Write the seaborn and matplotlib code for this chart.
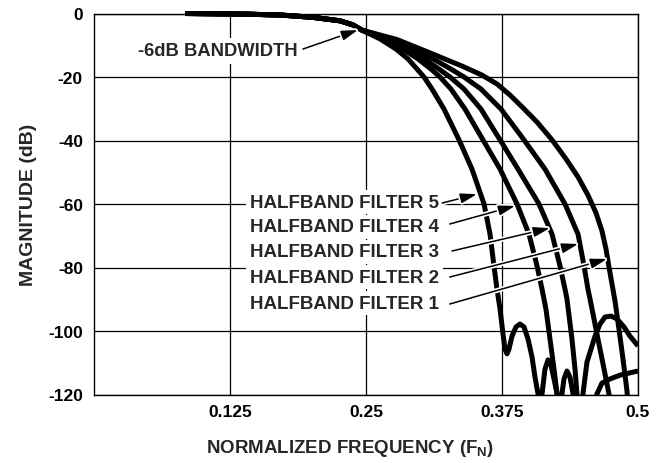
import numpy as np
import pandas as pd
import matplotlib
matplotlib.use("Agg")
import matplotlib.pyplot as plt
import seaborn as sns
from matplotlib import patheffects as pe
from matplotlib.transforms import Bbox, TransformedBbox

# ---------------- data ----------------
passband_f = [0.084, 0.14, 0.172, 0.201, 0.226, 0.238, 0.246]
passband_db = [0.0, -0.2, -0.5, -1.2, -2.3, -3.6, -5.2]

f1 = [0.2785, 0.3088, 0.3392, 0.3566, 0.3704, 0.3824, 0.3934, 0.4072, 0.4210, 0.4338,
      0.4449, 0.4540, 0.4614, 0.4669, 0.4706, 0.4733, 0.4761, 0.4789, 0.4825, 0.4862,
      0.4899, 0.4917]
db1 = [-8.2, -12.4, -16.7, -19.4, -22.2, -25.7, -29.4, -34.2, -39.8, -45.8,
       -51.5, -57.2, -62.8, -68.5, -74.2, -79.8, -85.2, -90.6, -99.4, -108.8,
       -118.9, -127.7]

f2 = [0.2702, 0.2923, 0.3116, 0.3281, 0.3401, 0.3557, 0.3741, 0.3952, 0.4145, 0.4329,
      0.4449, 0.4504, 0.4540, 0.4559, 0.4632, 0.4688, 0.4733, 0.4770]
db2 = [-8.0, -11.2, -14.3, -17.5, -20.0, -23.8, -30.1, -39.8, -49.0, -60.0,
       -69.5, -79.5, -86.8, -89.9, -102.5, -112.0, -119.8, -127.7]

f3 = [0.2675, 0.2886, 0.3033, 0.3171, 0.3272, 0.3401, 0.3557, 0.3732, 0.3897, 0.4090,
      0.4210, 0.4283, 0.4329, 0.4347, 0.4393, 0.4421, 0.4439, 0.4449, 0.4467, 0.4494,
      0.4531, 0.4605, 0.4651, 0.4697, 0.4752, 0.4807, 0.4871, 0.4926, 0.5000]
db3 = [-8.0, -11.2, -14.3, -17.5, -20.0, -23.8, -30.1, -39.8, -49.0, -60.0,
       -69.5, -79.5, -86.8, -89.9, -102.5, -112.0, -119.8, -124.6, -127.7, -119.8,
       -109.8, -101.6, -97.8, -95.6, -95.3, -96.2, -98.7, -101.6, -104.7]

f4 = [0.2656, 0.2840, 0.2978, 0.3097, 0.3180, 0.3281, 0.3410, 0.3575, 0.3732, 0.3888,
      0.3998, 0.4072, 0.4118, 0.4154, 0.4191, 0.4228, 0.4256, 0.4274, 0.4301, 0.4320,
      0.4347, 0.4375, 0.4403, 0.4421, 0.4522, 0.4623, 0.4669, 0.4743, 0.4835, 0.5000]
db4 = [-8.0, -11.2, -14.3, -17.5, -20.0, -23.8, -30.1, -39.8, -49.0, -60.0,
       -69.5, -79.5, -86.8, -93.1, -102.5, -112.0, -119.8, -127.7, -119.8, -115.1,
       -112.6, -114.5, -119.8, -127.7, -134.0, -119.8, -116.4, -115.1, -113.9, -112.6]

f5 = [0.2629, 0.2776, 0.2886, 0.2969, 0.3033, 0.3107, 0.3217, 0.3355, 0.3474, 0.3585,
      0.3640, 0.3676, 0.3704, 0.3732, 0.3759, 0.3778, 0.3796, 0.3814, 0.3842, 0.3879,
      0.3915, 0.3952, 0.3989, 0.4026, 0.4053, 0.4081, 0.4100, 0.4118, 0.4145, 0.4173,
      0.4200, 0.4228, 0.4256, 0.4274]
db5 = [-8.0, -11.2, -14.3, -17.5, -20.0, -23.8, -30.1, -39.8, -49.0, -60.0,
       -69.5, -79.5, -86.8, -93.1, -100.9, -105.7, -107.2, -105.7, -101.6, -98.7,
       -97.8, -98.7, -102.5, -108.2, -114.5, -119.8, -124.6, -119.8, -112.0, -109.1,
       -110.7, -115.1, -119.8, -127.7]

filter_names = ["HALFBAND FILTER 1", "HALFBAND FILTER 2", "HALFBAND FILTER 3",
                "HALFBAND FILTER 4", "HALFBAND FILTER 5"]
stop_f = [f1, f2, f3, f4, f5]
stop_db = [db1, db2, db3, db4, db5]

x_ticks = [0.125, 0.25, 0.375, 0.5]
x_tick_labels = ["0.125", "0.25", "0.375", "0.5"]
y_ticks = [0, -20, -40, -60, -80, -100, -120]
y_tick_labels = ["0", "-20", "-40", "-60", "-80", "-100", "-120"]

# arrow tips (point on curve) and label anchors
label_y = [-91.2, -83.0, -75.1, -67.2, -59.4]
arrow_start = [(0.327, -91.5), (0.327, -83.0), (0.329, -74.8), (0.327, -66.3), (0.320, -59.7)]
arrow_tip = [(0.4715, -77.3), (0.445, -72.6), (0.419, -67.6), (0.387, -60.6), (0.352, -56.9)]
label_x = 0.1434

bw_text = "-6dB BANDWIDTH"
bw_text_pos = (0.0404, -11.8)
bw_arrow_start = (0.192, -11.2)
bw_arrow_tip = (0.2426, -5.2)

# ---------------- build table ----------------
rows = []
for name, fs, dbs in zip(filter_names, stop_f, stop_db):
    for f, d in zip(passband_f + fs, passband_db + dbs):
        rows.append((name, f, d))
df = pd.DataFrame(rows, columns=["filter", "freq", "mag"])

# ---------------- style ----------------
sns.set_style("white")
plt.rcParams["font.family"] = ["Liberation Sans", "DejaVu Sans"]
plt.rcParams["font.weight"] = "bold"
plt.rcParams["mathtext.fontset"] = "custom"
plt.rcParams["mathtext.rm"] = "Liberation Sans:bold"
plt.rcParams["mathtext.it"] = "Liberation Sans:bold"
plt.rcParams["mathtext.bf"] = "Liberation Sans:bold"
plt.rcParams["axes.unicode_minus"] = False

fig = plt.figure(figsize=(6.68, 4.64), dpi=100)
ax = fig.add_axes([94 / 668, 1 - 395.5 / 464, (638 - 94) / 668, (395.5 - 14.5) / 464])

sns.lineplot(data=df, x="freq", y="mag", hue="filter",
             palette={n: "black" for n in filter_names},
             estimator=None, sort=False, legend=False, lw=3.6, ax=ax, zorder=3)
for ln in ax.lines:
    ln.set_solid_joinstyle("round")
    ln.set_solid_capstyle("butt")

ax.set_xlim(0, 0.5)
ax.set_ylim(-120, 0)
ax.set_xticks(x_ticks)
ax.set_xticklabels(x_tick_labels)
ax.set_yticks(y_ticks)
ax.set_yticklabels(y_tick_labels)
ax.tick_params(length=0, labelsize=12.5, colors="black")
ax.tick_params(axis="y", pad=8)
ax.tick_params(axis="x", pad=7)
ax.grid(True, color="black", lw=0.9)
ax.set_axisbelow(True)
for s in ax.spines.values():
    s.set_color("black")
    s.set_linewidth(1.0)

ax.set_xlabel(r"NORMALIZED FREQUENCY (F$_\mathrm{N}$)", fontsize=13.5, fontweight="bold")
ax.set_ylabel("MAGNITUDE (dB)", fontsize=14, fontweight="bold")
ax.xaxis.set_label_coords(0.47, -0.112)
ax.yaxis.set_label_coords(-0.105, 0.5)

# let the thick lines sit over the top border like the reference
clip = TransformedBbox(Bbox([[0, -120], [0.5, 4]]), ax.transData)
for ln in ax.lines:
    ln.set_clip_path(None)
    ln.set_clip_box(clip)

halo = [pe.withStroke(linewidth=3.5, foreground="white")]
astyle = "-|>,head_length=1.0,head_width=0.3"

for name, ly, st, tp in zip(filter_names, label_y, arrow_start, arrow_tip):
    ax.text(label_x, ly, name, fontsize=13.5, fontweight="bold", ha="left", va="center",
            zorder=4, bbox=dict(fc="white", ec="none", pad=2.5))
    ax.annotate("", xy=tp, xytext=st, zorder=5,
                arrowprops=dict(arrowstyle=astyle, color="black",
                                lw=1.1, shrinkA=0, shrinkB=0, path_effects=halo))

ax.text(bw_text_pos[0], bw_text_pos[1], bw_text, fontsize=13.2, fontweight="bold",
        ha="left", va="center", zorder=4, bbox=dict(fc="white", ec="none", pad=3))
ax.annotate("", xy=bw_arrow_tip, xytext=bw_arrow_start, zorder=5,
            arrowprops=dict(arrowstyle=astyle, color="black",
                            lw=1.1, shrinkA=0, shrinkB=0, path_effects=halo))

fig.savefig("out.png", dpi=100)
